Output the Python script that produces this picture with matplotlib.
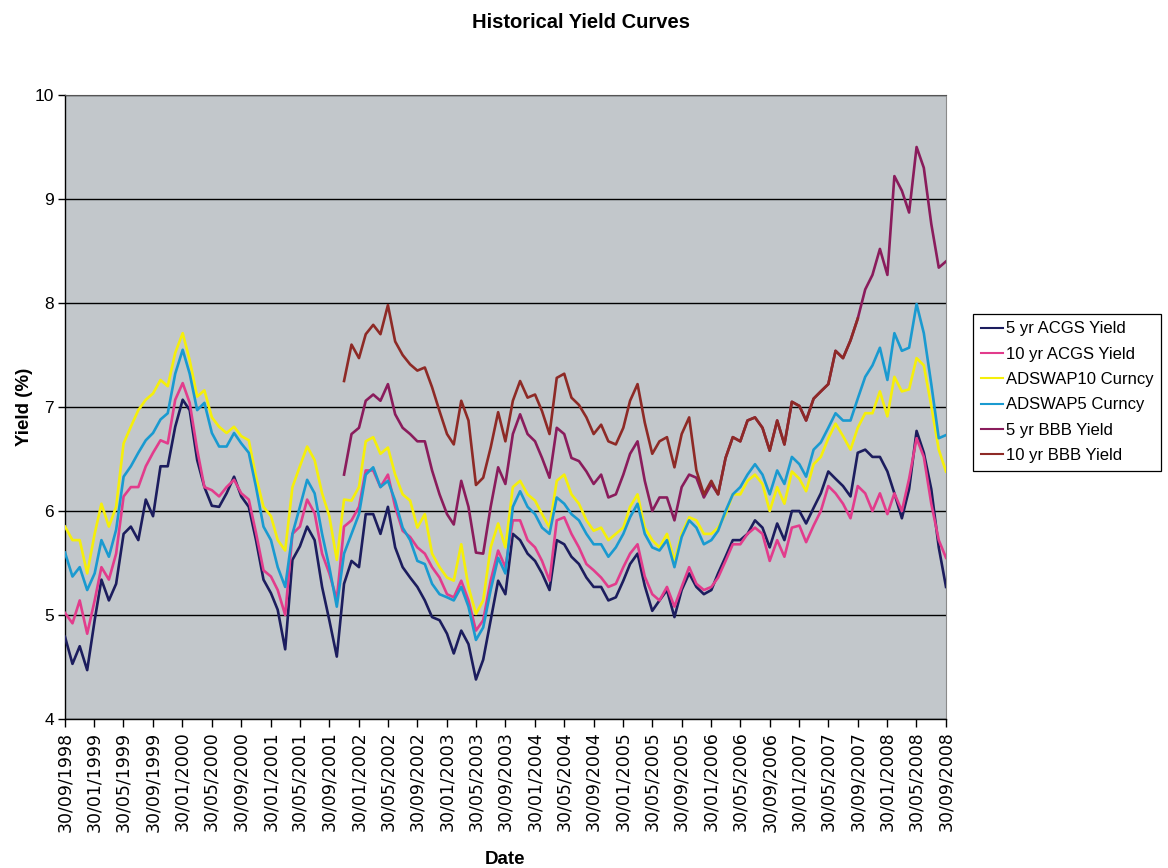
import matplotlib
matplotlib.use("Agg")
import matplotlib.pyplot as plt
import matplotlib.dates as mdates
import numpy as np
import pandas as pd
from datetime import datetime

# Month-end observation dates, Sep 1998 - Sep 2008
dates = pd.date_range("1998-09-30", "2008-09-30", freq="ME")

acgs5 = [
    4.79, 4.53, 4.70, 4.47, 4.95, 5.34, 5.14, 5.30, 5.78, 5.85,
    5.72, 6.11, 5.95, 6.43, 6.43, 6.81, 7.07, 6.97, 6.49, 6.23,
    6.05, 6.04, 6.17, 6.33, 6.14, 6.04, 5.72, 5.34, 5.21, 5.05,
    4.67, 5.53, 5.66, 5.85, 5.72, 5.27, 4.95, 4.60, 5.30, 5.52,
    5.46, 5.97, 5.97, 5.78, 6.04, 5.65, 5.46, 5.36, 5.27, 5.14,
    4.98, 4.95, 4.82, 4.63, 4.85, 4.72, 4.38, 4.57, 4.95, 5.33,
    5.20, 5.78, 5.72, 5.59, 5.52, 5.40, 5.24, 5.72, 5.68, 5.56,
    5.49, 5.36, 5.27, 5.27, 5.14, 5.17, 5.33, 5.49, 5.59, 5.28,
    5.04, 5.14, 5.24, 4.98, 5.24, 5.40, 5.27, 5.20, 5.24, 5.40,
    5.56, 5.72, 5.72, 5.78, 5.91, 5.84, 5.65, 5.88, 5.72, 6.00,
    6.00, 5.88, 6.03, 6.17, 6.38, 6.31, 6.24, 6.14, 6.56, 6.59,
    6.52, 6.52, 6.38, 6.17, 5.93, 6.21, 6.77, 6.56, 6.21, 5.65, 5.27,
]

acgs10 = [
    5.02, 4.92, 5.14, 4.82, 5.14, 5.46, 5.34, 5.59, 6.14, 6.23,
    6.23, 6.43, 6.56, 6.68, 6.65, 7.07, 7.23, 7.04, 6.59, 6.23,
    6.20, 6.14, 6.23, 6.30, 6.17, 6.11, 5.79, 5.43, 5.37, 5.24,
    5.00, 5.78, 5.85, 6.11, 5.98, 5.59, 5.40, 5.15, 5.85, 5.91,
    6.04, 6.39, 6.39, 6.23, 6.35, 6.04, 5.81, 5.75, 5.65, 5.59,
    5.46, 5.36, 5.20, 5.17, 5.33, 5.14, 4.85, 4.95, 5.33, 5.62,
    5.46, 5.91, 5.91, 5.72, 5.65, 5.52, 5.33, 5.91, 5.94, 5.78,
    5.65, 5.49, 5.43, 5.36, 5.27, 5.30, 5.46, 5.59, 5.68, 5.37,
    5.20, 5.14, 5.27, 5.08, 5.27, 5.46, 5.30, 5.24, 5.27, 5.36,
    5.52, 5.68, 5.68, 5.78, 5.84, 5.78, 5.52, 5.72, 5.56, 5.84,
    5.86, 5.70, 5.86, 6.00, 6.24, 6.17, 6.07, 5.93, 6.24, 6.17,
    6.00, 6.17, 5.97, 6.17, 6.00, 6.31, 6.70, 6.52, 6.07, 5.72, 5.55,
]

adswap10 = [
    5.85, 5.72, 5.72, 5.40, 5.78, 6.07, 5.85, 6.04, 6.65, 6.81,
    6.97, 7.07, 7.13, 7.26, 7.20, 7.52, 7.71, 7.45, 7.10, 7.16,
    6.90, 6.81, 6.75, 6.81, 6.72, 6.68, 6.33, 6.04, 5.95, 5.72,
    5.62, 6.23, 6.43, 6.62, 6.49, 6.17, 5.95, 5.53, 6.11, 6.10,
    6.23, 6.67, 6.71, 6.55, 6.61, 6.35, 6.16, 6.10, 5.84, 5.97,
    5.59, 5.46, 5.36, 5.33, 5.68, 5.27, 5.01, 5.14, 5.65, 5.88,
    5.65, 6.23, 6.29, 6.16, 6.10, 5.97, 5.84, 6.29, 6.35, 6.16,
    6.07, 5.91, 5.81, 5.84, 5.72, 5.78, 5.84, 6.04, 6.16, 5.84,
    5.72, 5.65, 5.78, 5.52, 5.78, 5.94, 5.91, 5.78, 5.78, 5.84,
    5.97, 6.16, 6.16, 6.29, 6.35, 6.26, 6.00, 6.23, 6.07, 6.38,
    6.31, 6.19, 6.45, 6.52, 6.70, 6.84, 6.72, 6.59, 6.80, 6.94,
    6.94, 7.15, 6.91, 7.29, 7.15, 7.17, 7.47, 7.40, 7.01, 6.59, 6.38,
]

adswap5 = [
    5.60, 5.37, 5.46, 5.24, 5.40, 5.72, 5.56, 5.82, 6.33, 6.43,
    6.56, 6.68, 6.75, 6.88, 6.94, 7.32, 7.55, 7.32, 6.97, 7.04,
    6.75, 6.62, 6.62, 6.75, 6.65, 6.56, 6.23, 5.85, 5.72, 5.46,
    5.27, 5.78, 6.04, 6.30, 6.17, 5.78, 5.46, 5.08, 5.59, 5.78,
    5.97, 6.35, 6.42, 6.23, 6.29, 6.10, 5.84, 5.72, 5.52, 5.49,
    5.30, 5.20, 5.17, 5.14, 5.27, 5.08, 4.76, 4.88, 5.24, 5.55,
    5.40, 6.04, 6.19, 6.04, 5.97, 5.84, 5.78, 6.13, 6.07, 5.97,
    5.91, 5.78, 5.68, 5.68, 5.56, 5.65, 5.78, 5.94, 6.07, 5.78,
    5.65, 5.62, 5.72, 5.46, 5.75, 5.91, 5.84, 5.68, 5.72, 5.81,
    6.00, 6.16, 6.23, 6.35, 6.45, 6.35, 6.16, 6.39, 6.26, 6.52,
    6.45, 6.33, 6.59, 6.66, 6.80, 6.94, 6.87, 6.87, 7.08, 7.29,
    7.40, 7.57, 7.26, 7.71, 7.54, 7.57, 7.99, 7.71, 7.22, 6.70, 6.73,
]

# BBB corporate yields: 5 yr from Nov 2001, 10 yr from Nov 2001 to Sep 2007
bbb5_start = 38
bbb5 = [
    6.35, 6.74,
    6.80, 7.06, 7.12, 7.06, 7.22, 6.93, 6.80, 6.74, 6.67, 6.67,
    6.39, 6.16, 5.97, 5.87, 6.29, 6.04, 5.60, 5.59, 6.04, 6.42,
    6.26, 6.74, 6.93, 6.74, 6.67, 6.51, 6.32, 6.80, 6.74, 6.51,
    6.48, 6.38, 6.26, 6.35, 6.13, 6.16, 6.35, 6.55, 6.67, 6.29,
    6.00, 6.13, 6.13, 5.91, 6.23, 6.35, 6.32, 6.13, 6.26, 6.16,
    6.51, 6.71, 6.67, 6.87, 6.90, 6.80, 6.58, 6.87, 6.64, 7.05,
    7.01, 6.87, 7.08, 7.15, 7.22, 7.54, 7.47, 7.64, 7.85, 8.13,
    8.27, 8.52, 8.27, 9.22, 9.08, 8.87, 9.50, 9.30, 8.76, 8.34, 8.40,
]

bbb10_start = 38
bbb10 = [
    7.25, 7.60,
    7.47, 7.70, 7.79, 7.70, 7.98, 7.63, 7.50, 7.41, 7.35, 7.38,
    7.19, 6.96, 6.74, 6.64, 7.06, 6.87, 6.25, 6.32, 6.61, 6.95,
    6.67, 7.06, 7.25, 7.09, 7.12, 6.96, 6.74, 7.28, 7.32, 7.09,
    7.02, 6.90, 6.74, 6.83, 6.67, 6.64, 6.80, 7.06, 7.22, 6.85,
    6.55, 6.67, 6.71, 6.42, 6.74, 6.90, 6.39, 6.16, 6.29, 6.16,
    6.51, 6.71, 6.67, 6.87, 6.90, 6.80, 6.58, 6.87, 6.64, 7.05,
    7.01, 6.87, 7.08, 7.15, 7.22, 7.54, 7.47, 7.64, 7.85,
]

series_names = ["5 yr ACGS Yield", "10 yr ACGS Yield", "ADSWAP10 Curncy",
                "ADSWAP5 Curncy", "5 yr BBB Yield", "10 yr BBB Yield"]
series_colors = ["#1c1d5e", "#e23c8c", "#f5ef0a", "#1a9ad0", "#8a1c5c", "#8e2a26"]

# Tick dates every four months: 30/09/1998 ... 30/09/2008
tick_dates = [datetime(y, m, 30) for y in range(1998, 2009) for m in (1, 5, 9)
              if datetime(1998, 9, 30) <= datetime(y, m, 30) <= datetime(2008, 9, 30)]

bold_family = ["Liberation Sans", "DejaVu Sans"]

fig = plt.figure(figsize=(11.68, 8.68), dpi=100)
fig.patch.set_facecolor("white")
ax = fig.add_axes([65 / 1168, 1 - 719 / 868, (946 - 65) / 1168, (719 - 95) / 868])
ax.set_facecolor("#c2c7cb")

xs = [dates, dates, dates, dates,
      dates[bbb5_start:bbb5_start + len(bbb5)],
      dates[bbb10_start:bbb10_start + len(bbb10)]]
ys = [acgs5, acgs10, adswap10, adswap5, bbb5, bbb10]
handles = []
for x, y, name, col in zip(xs, ys, series_names, series_colors):
    h, = ax.plot(x, y, color=col, lw=1.9, label=name, zorder=3)
    handles.append(h)

ax.set_ylim(4, 10)
ax.set_yticks(np.arange(4, 11, 1))
ax.set_xlim(dates[0], dates[-1])
ax.set_xticks(tick_dates)
ax.xaxis.set_major_formatter(mdates.DateFormatter("%d/%m/%Y"))

ax.grid(axis="y", color="black", lw=1.0, zorder=1)
ax.grid(axis="x", visible=False)
for side in ("left", "bottom"):
    ax.spines[side].set_color("black")
    ax.spines[side].set_linewidth(1.0)
ax.spines["top"].set_color("#555555")
ax.spines["right"].set_color("#8a8a8a")
ax.spines["right"].set_linewidth(0.8)

ax.tick_params(axis="y", direction="out", length=5, width=1, pad=3, labelsize=12.5)
ax.tick_params(axis="x", direction="out", length=6, width=1, pad=3)
for lab in ax.get_yticklabels():
    lab.set_fontfamily("Liberation Sans")
for lab in ax.get_xticklabels():
    lab.set_rotation(90)
    lab.set_fontfamily("DejaVu Sans")
    lab.set_fontsize(12.5)

ax.set_ylabel("Yield (%)", fontsize=13.5, fontweight="bold", family=bold_family, labelpad=1)
ax.set_xlabel("Date", fontsize=13.5, fontweight="bold", family=bold_family, labelpad=14)
fig.text(581 / 1168, 1 - 22 / 868, "Historical Yield Curves", ha="center", va="center",
         fontsize=14.5, fontweight="bold", family=bold_family)

leg = fig.legend(handles, series_names, loc="upper left",
                 bbox_to_anchor=(973 / 1168, 1 - 314 / 868),
                 frameon=True, fancybox=False, framealpha=1, edgecolor="black",
                 prop={"family": "Liberation Sans", "size": 12},
                 handlelength=1.35, handletextpad=0.15, labelspacing=0.62,
                 borderpad=0.45, borderaxespad=0)
leg.get_frame().set_linewidth(0.9)
for line in leg.get_lines():
    line.set_linewidth(1.5)

fig.savefig("out.png", dpi=100, facecolor="white")
